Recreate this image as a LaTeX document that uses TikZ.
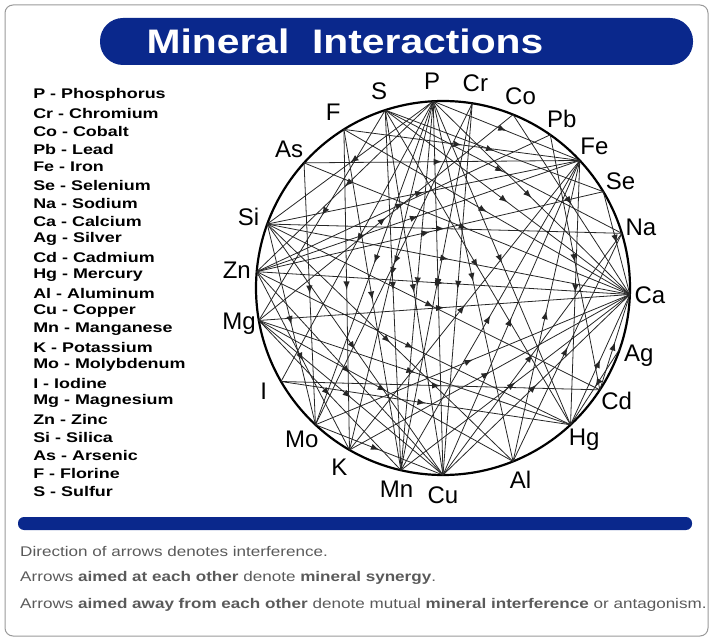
\documentclass[tikz,border=0pt]{standalone}
\usepackage{fontspec}
\setmainfont{Liberation Sans}
\usetikzlibrary{calc,decorations.markings}
\definecolor{barblue}{RGB}{10,40,140}
\definecolor{notegray}{RGB}{90,90,90}
\tikzset{
  chord/.style={line width=0.8pt, black!85, decoration={markings, mark=at position 0.5 with {\arrow[scale=1.6]{latex}}}, postaction=decorate},
  elem/.style={font=\fontsize{24}{24}\selectfont},
  legend/.style={anchor=west, font=\fontsize{14}{14}\selectfont\bfseries, xscale=1.28, inner sep=0pt},
  note/.style={anchor=west, text=notegray, font=\fontsize{14}{14}\selectfont, xscale=1.22, inner sep=0pt}
}
\begin{document}
\begin{tikzpicture}
\useasboundingbox (0,0) rectangle (713pt,641pt);
\begin{scope}[x=1pt,y=1pt]
  % frame, title and bottom bar
  \draw[gray!80, line width=1pt, rounded corners=8pt] (5,5) rectangle (708,636);
  \fill[barblue, rounded corners=23pt] (100,576) rectangle (693,623);
  \node (title) [text=white, font=\fontsize{34}{34}\selectfont\bfseries, xscale=1.2] at (345,600) {Mineral\ \ Interactions};
  \fill[barblue, rounded corners=6pt] (18,111) rectangle (692,124);
  \node (n1) [note] at (20,90) {Direction of arrows denotes interference.};
  \node (n2) [note] at (20,63) {Arrows \textbf{aimed at each other} denote \textbf{mineral synergy}.};
  \node (n3) [note] at (20,36) {Arrows \textbf{aimed away from each other} denote mutual \textbf{mineral interference} or antagonism.};
  % legend
  \foreach \t [count=\i] in {P - Phosphorus, Cr - Chromium, Co - Cobalt, Pb - Lead, Fe - Iron, Se - Selenium,
      Na - Sodium, Ca - Calcium, Ag - Silver, Cd - Cadmium, Hg - Mercury, Al - Aluminum, Cu - Copper,
      Mn - Manganese, K - Potassium, Mo - Molybdenum, I - Iodine, Mg - Magnesium, Zn - Zinc,
      Si - Silica, As - Arsenic, F - Florine, S - Sulfur}
    \node (leg\i) [legend] at (33,{546-18*(\i-1)}) {\t};
  % wheel
  \coordinate (c) at (443,353);
  \draw[line width=2.2pt] (c) circle (187);
  \foreach \n/\ang in {P/93, Cr/81, Co/68, Pb/55, Fe/43, Se/31, Na/17, Ca/-2, Ag/-19, Cd/-33, Hg/-47,
      Al/-68, Cu/-90, Mn/-103, K/-120, Mo/-133, I/-150, Mg/-170, Zn/175, Si/160, As/138, F/122, S/108} {
    \coordinate (\n) at ($(c)+(\ang:187)$);
    \node (l\n) [elem] at ($(c)+(\ang:207)$) {\n};
  }
  \foreach \a/\b in {P/Ca, P/Mn, P/Cu, P/Al, P/K, P/Mo, P/Zn, P/Si, P/Fe, P/Hg, P/I,
      S/Cu, S/Mg, S/Ca, S/Hg, S/Se, S/Na, S/Mn, F/Ca, F/Mn, F/K, F/Fe,
      As/Ca, As/Fe, As/Mo, Si/Ca, Si/Cu, Si/Cd, Si/Al, Si/Fe, Si/Na, Si/Mo,
      Zn/Ca, Zn/Cu, Zn/Hg, Zn/Fe, Zn/Se, Zn/K, Zn/Pb, Mg/Ca, Mg/Cu, Mg/Al, Mg/Hg, Mg/Co, Mg/Mn,
      I/Hg, I/Cd, Mo/Ca, Mo/Cu, K/Ca, K/Fe, Mn/Fe, Mn/Ca, Cu/Fe, Cu/Ca, Cu/Na, Al/Na, Al/Fe,
      Hg/Ca, Cd/Ca, Ag/Hg, Cr/Mn, Cr/Cu, Co/Ca, Pb/Cd, Fe/Hg, Se/Ca, Cr/Mo}
    \draw[chord] (\a) -- (\b);
\end{scope}
\end{tikzpicture}
\end{document}
